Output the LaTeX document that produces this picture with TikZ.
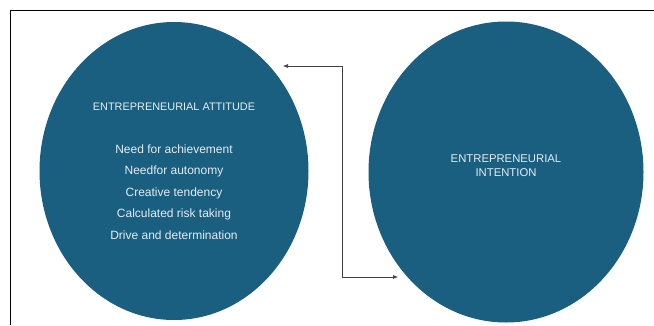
\documentclass[tikz,border=0pt]{standalone}
\usepackage{fontspec}
\setmainfont{Liberation Sans}
\usepackage{xcolor}
\usepackage{tikz}
\usetikzlibrary{arrows.meta, positioning, shapes.geometric}

\definecolor{bubble}{RGB}{26,94,128}
\definecolor{bubbletext}{RGB}{228,237,242}

\begin{document}
\begin{tikzpicture}[
  x=1pt, y=-1pt,
  bubble/.style={ellipse, fill=bubble, text=bubbletext, align=center, inner sep=0pt},
  link/.style={{Latex[length=5pt,width=4pt]}-{Latex[length=5pt,width=4pt]}, draw=black!75, line width=0.6pt}
]
  \useasboundingbox (0,0) rectangle (654,325);
  \draw[line width=0.8pt] (10,325) -- (10,10) -- (654,10);

  \node[bubble, minimum width=269pt, minimum height=298pt, font=\fontsize{12}{21.5}\selectfont] (attitude) at (174,171)
    {{\fontsize{10.9}{21.5}\selectfont ENTREPRENEURIAL ATTITUDE}\\[21.5pt]
     Need for achievement\\Needfor autonomy\\Creative tendency\\Calculated risk taking\\Drive and determination};
  \node[bubble, minimum width=275pt, minimum height=301pt] (intention) at (506,172) {};
  \node[text=bubbletext, align=center, font=\fontsize{11.3}{14}\selectfont] (intentiontext) at ([yshift=6pt]intention.center) {ENTREPRENEURIAL\\INTENTION};

  \coordinate (toatt) at (283,66);
  \coordinate (toint) at (398,277);
  \draw[link] (toatt) -- ++(59,0) |- (toint);
\end{tikzpicture}
\end{document}
